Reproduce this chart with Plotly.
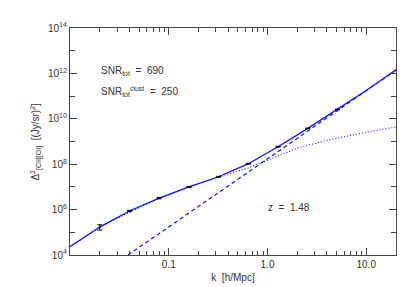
import plotly.graph_objects as go

# Clustering-only (dotted) curve
k_clust = [0.01, 0.0201, 0.0425, 0.0796, 0.156, 0.322, 0.634, 1.01, 2.03, 4.09, 6.51, 11.7, 20.0]
p_clust = [2.3e4, 1.71e5, 8.67e5, 3.08e6, 9.4e6, 2.73e7, 6.8e7, 1.53e8, 5.18e8, 1.16e9, 1.75e9, 2.9e9, 4.35e9]

# Shot-noise (dashed) line
k_shot = [0.0387, 20.0]
p_shot = [1.0e4, 1.38e12]

# Total (solid) curve
k_tot = [0.01, 0.02, 0.04, 0.08, 0.16, 0.32, 0.64, 1.28, 2.56, 5.12, 10.24, 20.0]
p_tot = [2.3e4, 1.7e5, 8.7e5, 3.2e6, 1.0e7, 2.8e7, 1.05e8, 5.9e8, 3.8e9, 2.6e10, 1.9e11, 1.45e12]

# Measured points with error bars
k_pts = [0.02, 0.04, 0.08, 0.16, 0.32, 0.64, 1.28, 2.56, 5.12]
p_pts = [1.7e5, 8.7e5, 3.2e6, 1.0e7, 2.8e7, 1.05e8, 5.9e8, 3.8e9, 2.6e10]
e_pts = [0.45e5, 0.6e5, 0.2e6, 0.5e6, 1.2e6, 4e6, 2.2e7, 1.2e8, 8e8]

x_tickvals = [0.1, 1, 10]
x_ticktext = ["0.1", "1.0", "10.0"]
x_minor = [0.02, 0.03, 0.04, 0.05, 0.06, 0.07, 0.08, 0.09,
           0.2, 0.3, 0.4, 0.5, 0.6, 0.7, 0.8, 0.9,
           2, 3, 4, 5, 6, 7, 8, 9, 20]
y_tickvals = [1e4, 1e6, 1e8, 1e10, 1e12, 1e14]
y_ticktext = ["10<sup>4</sup>", "10<sup>6</sup>", "10<sup>8</sup>",
              "10<sup>10</sup>", "10<sup>12</sup>", "10<sup>14</sup>"]
y_minor = [1e5, 1e7, 1e9, 1e11, 1e13]

blue = "#1010ff"
txt = "#333333"
font = "Liberation Sans, Arial, sans-serif"

fig = go.Figure()
fig.add_trace(go.Scatter(x=k_clust, y=p_clust, mode="lines",
                         line=dict(color=blue, width=1.1, dash="1px,2px"), showlegend=False))
fig.add_trace(go.Scatter(x=k_shot, y=p_shot, mode="lines",
                         line=dict(color=blue, width=1.2, dash="4px,3px"), showlegend=False))
fig.add_trace(go.Scatter(x=k_tot, y=p_tot, mode="lines",
                         line=dict(color=blue, width=1.3), showlegend=False))
fig.add_trace(go.Scatter(x=k_pts, y=p_pts, mode="markers",
                         marker=dict(size=1, color="black"),
                         error_y=dict(type="data", array=e_pts, color="black",
                                      thickness=1, width=2.5),
                         showlegend=False))

axis_common = dict(
    type="log", showgrid=False, zeroline=False, showline=True,
    linecolor="#444444", linewidth=1.2, mirror="ticks", ticks="inside",
    tickcolor="#444444", tickwidth=1,
    tickfont=dict(family=font, size=10, color=txt),
)

fig.update_layout(
    width=407, height=287,
    margin=dict(l=62, r=19, t=20, b=40),
    paper_bgcolor="white", plot_bgcolor="white",
    font=dict(family=font, size=10, color=txt),
    xaxis=dict(axis_common, range=[-2, 1.30103], tickvals=x_tickvals, ticktext=x_ticktext,
               ticklen=7,
               minor=dict(tickvals=x_minor, ticks="inside", ticklen=4, tickcolor="#444444"),
               title=dict(text="k  [h/Mpc]", font=dict(family=font, size=10, color=txt), standoff=4)),
    yaxis=dict(axis_common, range=[4, 14], tickvals=y_tickvals, ticktext=y_ticktext,
               ticklen=7,
               minor=dict(tickvals=y_minor, ticks="inside", ticklen=5, tickcolor="#444444")),
    annotations=[
        dict(text="Δ<sup>2</sup><sub>[CII][OI]</sub>  [(Jy/sr)<sup>2</sup>]", textangle=-90,
             xref="paper", yref="paper", x=-0.107, y=0.5, xanchor="center", yanchor="middle",
             showarrow=False, font=dict(family=font, size=10, color=txt)),
        dict(text="SNR<sub>tot</sub>  =  690", xref="paper", yref="paper",
             x=(91 - 62) / 326, y=(247 - 62.5) / 227, xanchor="left", yanchor="middle",
             showarrow=False, font=dict(family=font, size=10, color=txt)),
        dict(text="SNR<sub>tot</sub><sup>clust</sup>  =  250", xref="paper", yref="paper",
             x=(91 - 62) / 326, y=(247 - 83) / 227, xanchor="left", yanchor="middle",
             showarrow=False, font=dict(family=font, size=10, color=txt)),
        dict(text="z  =  1.48", xref="paper", yref="paper",
             x=(258 - 62) / 326, y=(247 - 199) / 227, xanchor="left", yanchor="middle",
             showarrow=False, font=dict(family=font, size=10, color=txt)),
    ],
)

fig.write_html("out.html")
